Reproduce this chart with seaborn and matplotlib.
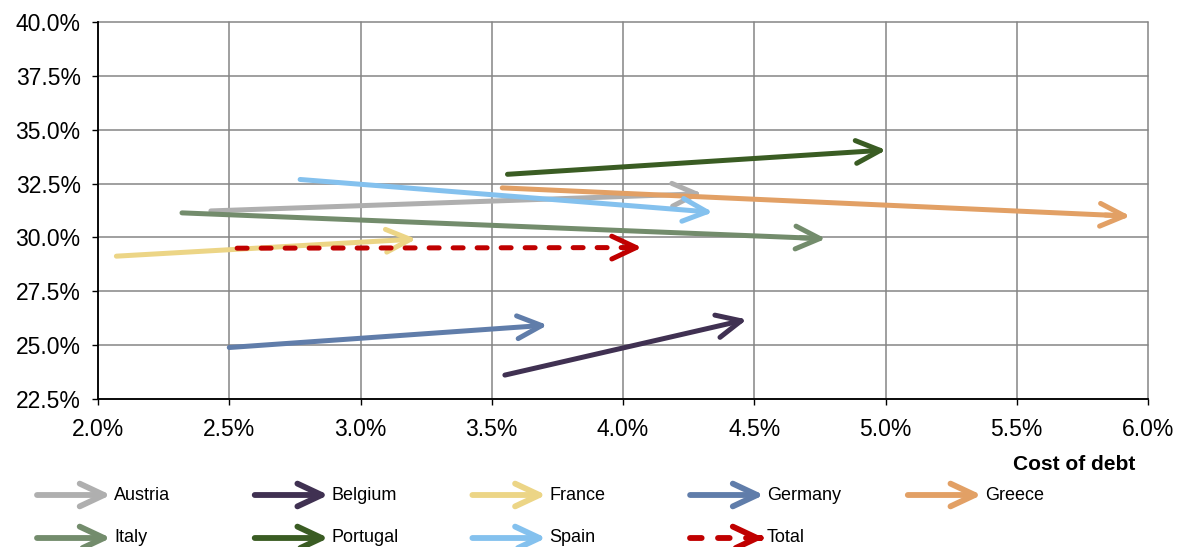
import matplotlib
matplotlib.use("Agg")
import matplotlib.pyplot as plt
from matplotlib.patches import FancyArrowPatch
from matplotlib.lines import Line2D
from matplotlib.ticker import FixedLocator, FuncFormatter
from matplotlib.transforms import ScaledTranslation
import numpy as np
import pandas as pd
import seaborn as sns

# ---- data -------------------------------------------------------------
countries = ["Austria", "Belgium", "France", "Germany", "Greece",
             "Italy", "Portugal", "Spain", "Total"]
cost_from = [2.43, 3.55, 2.07, 2.50, 3.54, 2.32, 3.56, 2.77, 2.53]
cost_to = [4.28, 4.45, 3.19, 3.69, 5.91, 4.75, 4.98, 4.32, 4.05]
share_from = [31.23, 23.61, 29.13, 24.89, 32.30, 31.14, 32.93, 32.69, 29.50]
share_to = [32.02, 26.13, 29.91, 25.91, 31.00, 29.95, 34.04, 31.19, 29.53]
colors = ["#AFAFAF", "#403152", "#ECD586", "#607DAA", "#E2A065",
          "#738C6C", "#3A5C23", "#84C1EE", "#C00000"]
x_ticks = [2.0, 2.5, 3.0, 3.5, 4.0, 4.5, 5.0, 5.5, 6.0]
y_ticks = [22.5, 25.0, 27.5, 30.0, 32.5, 35.0, 37.5, 40.0]
x_title = "Cost of debt"

# ---- style ------------------------------------------------------------
sns.set_style("white")
plt.rcParams["font.family"] = ["Liberation Sans", "DejaVu Sans"]

LW = 3.6                      # arrow line width (pt)
HL, HW, MS = 1.75, 0.82, 10   # head length / half width, mutation scale
HEAD = f"->,head_length={HL},head_width={HW}"
DASH = [2.0, 2.8]             # in units of line width
# "->" pulls its vertex back by this much (pt); push it forward again so
# the chevron vertex sits on the end point of the shaft
SIN_T = HW / np.hypot(HL, HW)
PULL = 0.5 * LW / SIN_T

palette = dict(zip(countries, colors))

rows = []
for c, x0, x1, y0, y1 in zip(countries, cost_from, cost_to, share_from, share_to):
    rows.append((c, 0, x0, y0))
    rows.append((c, 1, x1, y1))
df = pd.DataFrame(rows, columns=["country", "step", "cost", "share"])

W, H = 1178, 547
fig = plt.figure(figsize=(W / 100, H / 100), dpi=100)
ax = fig.add_axes([98 / W, 1 - 399 / H, 1050 / W, 377 / H])
ax.set_xlim(2.0, 6.0)
ax.set_ylim(22.5, 40.0)

# shafts
for i, c in enumerate(countries):
    sub = df[df["country"] == c]
    n_before = len(ax.lines)
    sns.lineplot(data=sub, x="cost", y="share", color=palette[c],
                 estimator=None, sort=False, lw=LW, legend=False, ax=ax,
                 solid_capstyle="round")
    line = ax.lines[n_before]
    line.set_zorder(3 + i * 0.1)
    if c == "Total":
        line.set_dashes(DASH)
        line.set_dash_capstyle("round")
ax.set_xlim(2.0, 6.0)
ax.set_ylim(22.5, 40.0)

# heads
for i, (c, x0, x1, y0, y1) in enumerate(zip(countries, cost_from, cost_to,
                                             share_from, share_to)):
    p0 = ax.transData.transform((x0, y0))
    p1 = ax.transData.transform((x1, y1))
    u = (p1 - p0) / np.hypot(*(p1 - p0))
    shift = ax.transData + ScaledTranslation(u[0] * PULL / 72, u[1] * PULL / 72,
                                             fig.dpi_scale_trans)
    back = (x1 - (x1 - x0) * 0.04, y1 - (y1 - y0) * 0.04)
    ax.annotate("", xy=(x1, y1), xytext=back, xycoords=shift,
                arrowprops=dict(arrowstyle=HEAD, mutation_scale=MS, lw=LW,
                                color=palette[c], shrinkA=0, shrinkB=0,
                                capstyle="round", joinstyle="round"),
                zorder=3 + i * 0.1 + 0.05)

# axes
ax.xaxis.set_major_locator(FixedLocator(x_ticks))
ax.yaxis.set_major_locator(FixedLocator(y_ticks))
pct = FuncFormatter(lambda v, _: f"{v:.1f}%")
ax.xaxis.set_major_formatter(pct)
ax.yaxis.set_major_formatter(pct)
ax.set_xlabel("")
ax.set_ylabel("")
ax.grid(True, color="#858585", lw=1.1)
ax.set_axisbelow(True)
for gl in ax.get_xgridlines() + ax.get_ygridlines():
    gl.set_clip_on(False)
for s in ("top", "right"):
    ax.spines[s].set_visible(False)
for s in ("left", "bottom"):
    ax.spines[s].set_color("black")
    ax.spines[s].set_linewidth(1.3)
    ax.spines[s].set_zorder(2.5)
ax.tick_params(axis="both", which="major", direction="out", length=4.5,
               width=1.0, color="black", labelsize=16.5, labelcolor="black",
               bottom=True, left=True)
ax.tick_params(axis="y", pad=8)
ax.tick_params(axis="x", pad=9)

fig.text(1135 / W, 1 - 464 / H, x_title, ha="right", va="center",
         fontsize=15, fontweight="bold", color="black")

# legend
LW_LEG = 4.2
PULL_LEG = 0.5 * LW_LEG / SIN_T / 72 * 100   # px
for k, (c, col) in enumerate(zip(countries, colors)):
    r, j = divmod(k, 5)
    ypx = 495 + 43 * r
    y = 1 - ypx / H
    xa = (37 + 217.7 * j) / W
    xb = (104 + 217.7 * j + PULL_LEG) / W
    xt = (114 + 217.7 * j) / W
    if c == "Total":
        seg = Line2D([xa, xb - 14 / W], [y, y], transform=fig.transFigure,
                     color=col, lw=LW_LEG, dash_capstyle="round")
        seg.set_dashes(DASH)
        fig.add_artist(seg)
        head = FancyArrowPatch((xb - 4 / W, y), (xb, y),
                               transform=fig.transFigure, arrowstyle=HEAD,
                               mutation_scale=MS, lw=LW_LEG, color=col,
                               shrinkA=0, shrinkB=0, capstyle="round",
                               joinstyle="round")
        fig.add_artist(head)
    else:
        arr = FancyArrowPatch((xa, y), (xb, y), transform=fig.transFigure,
                              arrowstyle=HEAD, mutation_scale=MS, lw=LW_LEG,
                              color=col, shrinkA=0, shrinkB=0,
                              capstyle="round", joinstyle="round")
        fig.add_artist(arr)
    fig.text(xt, y, c, ha="left", va="center", fontsize=13, color="black")

fig.savefig("out.png", dpi=100)
